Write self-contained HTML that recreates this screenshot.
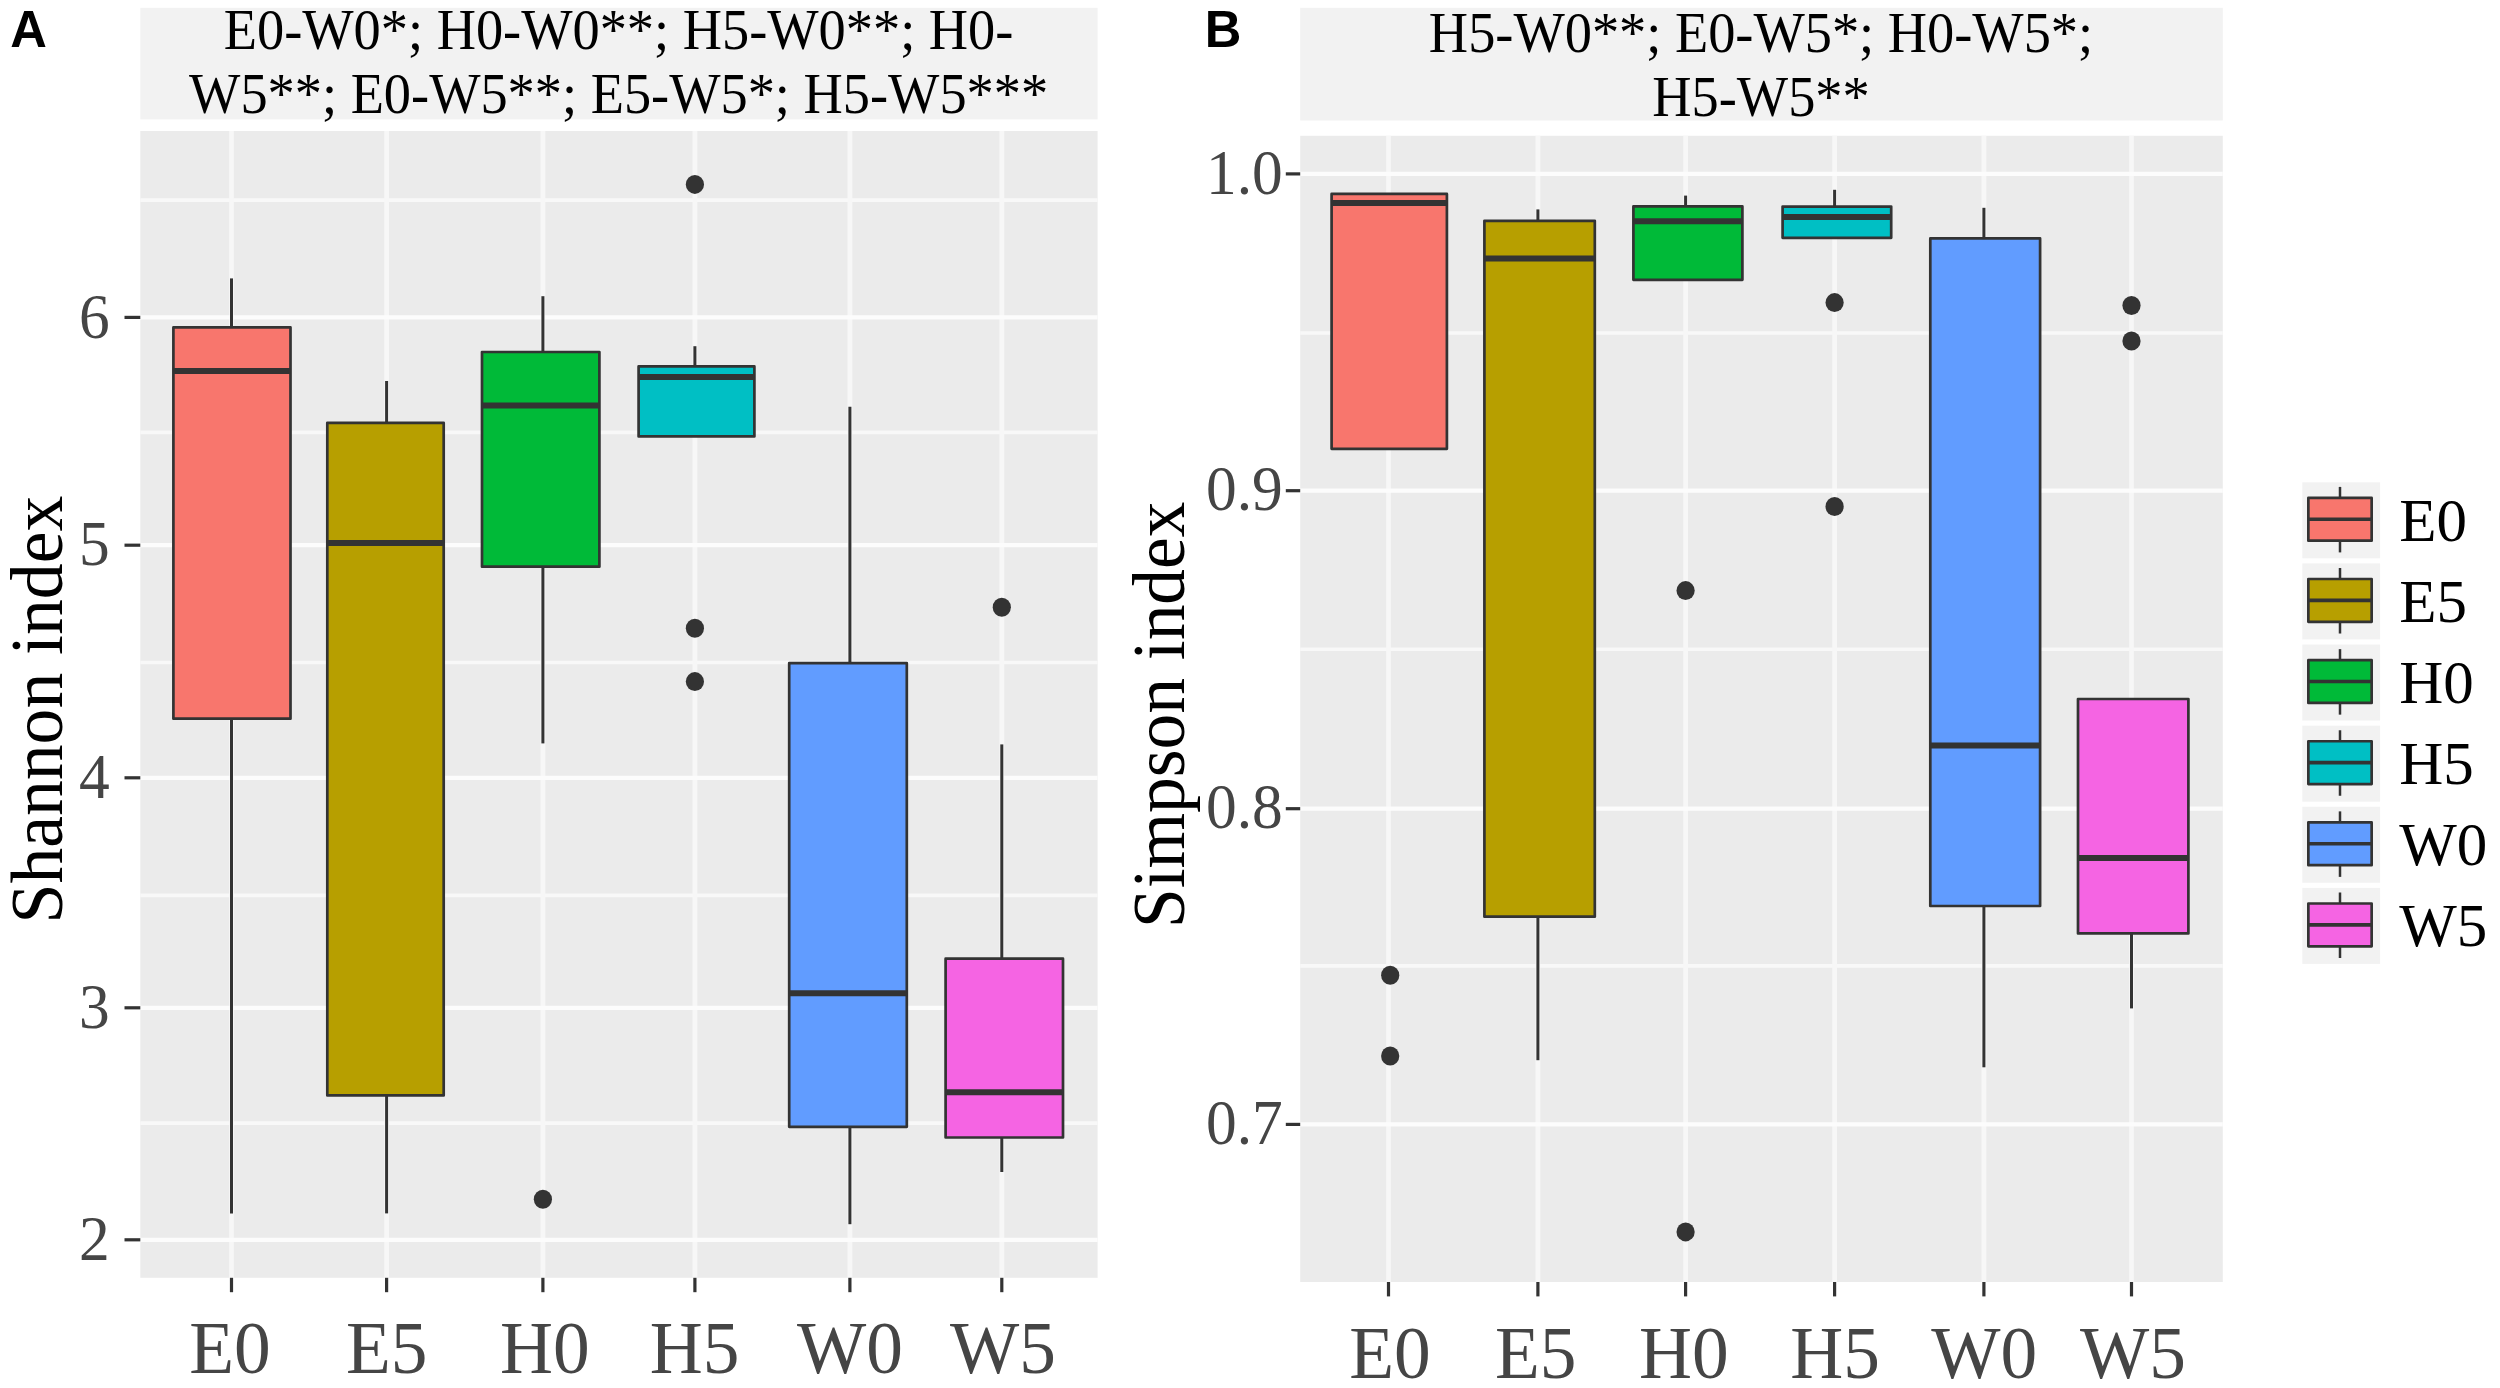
<!DOCTYPE html>
<html lang="en"><head><meta charset="utf-8"><title>Shannon and Simpson index boxplots</title>
<style>html,body{margin:0;padding:0;background:#fff;}body{width:2500px;height:1388px;overflow:hidden;}svg{display:block;}</style>
</head><body>
<svg width="2500" height="1388" viewBox="0 0 2500 1388">
<rect x="0" y="0" width="2500" height="1388" fill="#fff"/>
<rect x="140.3" y="7.8" width="957.30" height="111.60" fill="#F2F2F2"/>
<rect x="140.3" y="131.0" width="957.30" height="1146.80" fill="#EBEBEB"/>
<g fill="none">
<line x1="140.3" x2="1097.6" y1="200.10" y2="200.10" stroke="#F8F8F8" stroke-width="3.6"/>
<line x1="140.3" x2="1097.6" y1="432.40" y2="432.40" stroke="#F8F8F8" stroke-width="3.6"/>
<line x1="140.3" x2="1097.6" y1="662.50" y2="662.50" stroke="#F8F8F8" stroke-width="3.6"/>
<line x1="140.3" x2="1097.6" y1="895.40" y2="895.40" stroke="#F8F8F8" stroke-width="3.6"/>
<line x1="140.3" x2="1097.6" y1="1123.10" y2="1123.10" stroke="#F8F8F8" stroke-width="3.6"/>
<line x1="231.50" x2="231.50" y1="131.0" y2="1277.8" stroke="#F7F7F7" stroke-width="4.8"/>
<line x1="386.60" x2="386.60" y1="131.0" y2="1277.8" stroke="#F7F7F7" stroke-width="4.8"/>
<line x1="542.90" x2="542.90" y1="131.0" y2="1277.8" stroke="#F7F7F7" stroke-width="4.8"/>
<line x1="694.90" x2="694.90" y1="131.0" y2="1277.8" stroke="#F7F7F7" stroke-width="4.8"/>
<line x1="849.90" x2="849.90" y1="131.0" y2="1277.8" stroke="#F7F7F7" stroke-width="4.8"/>
<line x1="1001.80" x2="1001.80" y1="131.0" y2="1277.8" stroke="#F7F7F7" stroke-width="4.8"/>
<line x1="140.3" x2="1097.6" y1="317.40" y2="317.40" stroke="#FCFCFC" stroke-width="4.2"/>
<line x1="140.3" x2="1097.6" y1="545.20" y2="545.20" stroke="#FCFCFC" stroke-width="4.2"/>
<line x1="140.3" x2="1097.6" y1="777.80" y2="777.80" stroke="#FCFCFC" stroke-width="4.2"/>
<line x1="140.3" x2="1097.6" y1="1007.80" y2="1007.80" stroke="#FCFCFC" stroke-width="4.2"/>
<line x1="140.3" x2="1097.6" y1="1239.80" y2="1239.80" stroke="#FCFCFC" stroke-width="4.2"/>
</g>
<g stroke="#333333">
<line x1="231.50" x2="231.50" y1="278.40" y2="327.40" stroke-width="3.0"/>
<line x1="231.50" x2="231.50" y1="718.70" y2="1213.40" stroke-width="3.0"/>
<rect x="173.40" y="327.40" width="117.10" height="391.30" fill="#F8766D" stroke-width="2.7" stroke-linejoin="round"/>
<line x1="173.40" x2="290.50" y1="370.90" y2="370.90" stroke-width="6.0"/>
</g>
<g stroke="#333333">
<line x1="386.60" x2="386.60" y1="381.00" y2="422.80" stroke-width="3.0"/>
<line x1="386.60" x2="386.60" y1="1095.40" y2="1213.40" stroke-width="3.0"/>
<rect x="327.30" y="422.80" width="116.40" height="672.60" fill="#B79F00" stroke-width="2.7" stroke-linejoin="round"/>
<line x1="327.30" x2="443.70" y1="543.00" y2="543.00" stroke-width="6.0"/>
</g>
<g stroke="#333333">
<line x1="542.90" x2="542.90" y1="296.20" y2="352.00" stroke-width="3.0"/>
<line x1="542.90" x2="542.90" y1="566.70" y2="743.40" stroke-width="3.0"/>
<rect x="482.00" y="352.00" width="117.40" height="214.70" fill="#00BA38" stroke-width="2.7" stroke-linejoin="round"/>
<line x1="482.00" x2="599.40" y1="405.50" y2="405.50" stroke-width="6.0"/>
</g>
<ellipse cx="542.90" cy="1199.30" rx="9.1" ry="9.5" fill="#333333"/>
<g stroke="#333333">
<line x1="694.90" x2="694.90" y1="346.20" y2="366.40" stroke-width="3.0"/>
<rect x="638.60" y="366.40" width="115.80" height="70.00" fill="#00BFC4" stroke-width="2.7" stroke-linejoin="round"/>
<line x1="638.60" x2="754.40" y1="377.00" y2="377.00" stroke-width="6.0"/>
</g>
<ellipse cx="694.90" cy="184.40" rx="9.1" ry="9.5" fill="#333333"/>
<ellipse cx="694.90" cy="628.20" rx="9.1" ry="9.5" fill="#333333"/>
<ellipse cx="694.90" cy="681.60" rx="9.1" ry="9.5" fill="#333333"/>
<g stroke="#333333">
<line x1="849.90" x2="849.90" y1="406.80" y2="663.20" stroke-width="3.0"/>
<line x1="849.90" x2="849.90" y1="1126.80" y2="1224.20" stroke-width="3.0"/>
<rect x="789.20" y="663.20" width="117.60" height="463.60" fill="#619CFF" stroke-width="2.7" stroke-linejoin="round"/>
<line x1="789.20" x2="906.80" y1="993.20" y2="993.20" stroke-width="6.0"/>
</g>
<g stroke="#333333">
<line x1="1001.80" x2="1001.80" y1="744.40" y2="958.70" stroke-width="3.0"/>
<line x1="1001.80" x2="1001.80" y1="1137.50" y2="1172.00" stroke-width="3.0"/>
<rect x="945.60" y="958.70" width="117.40" height="178.80" fill="#F564E3" stroke-width="2.7" stroke-linejoin="round"/>
<line x1="945.60" x2="1063.00" y1="1092.30" y2="1092.30" stroke-width="6.0"/>
</g>
<ellipse cx="1001.80" cy="607.20" rx="9.1" ry="9.5" fill="#333333"/>
<g stroke="#333333" stroke-width="3.2">
<line x1="124.50" x2="140.3" y1="317.40" y2="317.40"/>
<line x1="124.50" x2="140.3" y1="545.20" y2="545.20"/>
<line x1="124.50" x2="140.3" y1="777.80" y2="777.80"/>
<line x1="124.50" x2="140.3" y1="1007.80" y2="1007.80"/>
<line x1="124.50" x2="140.3" y1="1239.80" y2="1239.80"/>
<line x1="231.50" x2="231.50" y1="1277.8" y2="1292.20"/>
<line x1="386.60" x2="386.60" y1="1277.8" y2="1292.20"/>
<line x1="542.90" x2="542.90" y1="1277.8" y2="1292.20"/>
<line x1="694.90" x2="694.90" y1="1277.8" y2="1292.20"/>
<line x1="849.90" x2="849.90" y1="1277.8" y2="1292.20"/>
<line x1="1001.80" x2="1001.80" y1="1277.8" y2="1292.20"/>
</g>
<text transform="translate(109.80,337.60) scale(0.9750,1)" font-family="'Liberation Serif', 'Times New Roman', Times, serif" font-size="63" fill="#454545" text-anchor="end">6</text>
<text transform="translate(109.80,565.40) scale(0.9750,1)" font-family="'Liberation Serif', 'Times New Roman', Times, serif" font-size="63" fill="#454545" text-anchor="end">5</text>
<text transform="translate(109.80,798.00) scale(0.9750,1)" font-family="'Liberation Serif', 'Times New Roman', Times, serif" font-size="63" fill="#454545" text-anchor="end">4</text>
<text transform="translate(109.80,1028.00) scale(0.9750,1)" font-family="'Liberation Serif', 'Times New Roman', Times, serif" font-size="63" fill="#454545" text-anchor="end">3</text>
<text transform="translate(109.80,1260.00) scale(0.9750,1)" font-family="'Liberation Serif', 'Times New Roman', Times, serif" font-size="63" fill="#454545" text-anchor="end">2</text>
<text transform="translate(230.00,1372.70) scale(0.9850,1)" font-family="'Liberation Serif', 'Times New Roman', Times, serif" font-size="74.5" fill="#454545" text-anchor="middle">E0</text>
<text transform="translate(386.80,1372.70) scale(0.9850,1)" font-family="'Liberation Serif', 'Times New Roman', Times, serif" font-size="74.5" fill="#454545" text-anchor="middle">E5</text>
<text transform="translate(544.90,1372.70) scale(0.9850,1)" font-family="'Liberation Serif', 'Times New Roman', Times, serif" font-size="74.5" fill="#454545" text-anchor="middle">H0</text>
<text transform="translate(694.50,1372.70) scale(0.9850,1)" font-family="'Liberation Serif', 'Times New Roman', Times, serif" font-size="74.5" fill="#454545" text-anchor="middle">H5</text>
<text transform="translate(850.00,1372.70) scale(0.9850,1)" font-family="'Liberation Serif', 'Times New Roman', Times, serif" font-size="74.5" fill="#454545" text-anchor="middle">W0</text>
<text transform="translate(1003.00,1372.70) scale(0.9850,1)" font-family="'Liberation Serif', 'Times New Roman', Times, serif" font-size="74.5" fill="#454545" text-anchor="middle">W5</text>
<text transform="translate(61.80,709.60) rotate(-90) scale(0.9550,1)" font-family="'Liberation Serif', 'Times New Roman', Times, serif" font-size="75" fill="#000" text-anchor="middle">Shannon index</text>
<text transform="translate(618.60,49.20) scale(0.9540,1)" font-family="'Liberation Serif', 'Times New Roman', Times, serif" font-size="57" fill="#000" text-anchor="middle">E0-W0*; H0-W0**; H5-W0**; H0-</text>
<text transform="translate(618.60,113.40) scale(0.9540,1)" font-family="'Liberation Serif', 'Times New Roman', Times, serif" font-size="57" fill="#000" text-anchor="middle">W5**; E0-W5**; E5-W5*; H5-W5***</text>
<text transform="translate(10.30,46.60) scale(0.9750,1)" font-family="'Liberation Sans', Arial, Helvetica, sans-serif" font-size="52" font-weight="bold" fill="#000" text-anchor="start">A</text>
<rect x="1300.2" y="7.8" width="922.60" height="112.70" fill="#F2F2F2"/>
<rect x="1300.2" y="135.8" width="922.60" height="1146.20" fill="#EBEBEB"/>
<g fill="none">
<line x1="1300.2" x2="2222.8" y1="333.00" y2="333.00" stroke="#F8F8F8" stroke-width="3.6"/>
<line x1="1300.2" x2="2222.8" y1="649.20" y2="649.20" stroke="#F8F8F8" stroke-width="3.6"/>
<line x1="1300.2" x2="2222.8" y1="965.90" y2="965.90" stroke="#F8F8F8" stroke-width="3.6"/>
<line x1="1388.50" x2="1388.50" y1="135.8" y2="1282.0" stroke="#F7F7F7" stroke-width="4.8"/>
<line x1="1537.90" x2="1537.90" y1="135.8" y2="1282.0" stroke="#F7F7F7" stroke-width="4.8"/>
<line x1="1685.60" x2="1685.60" y1="135.8" y2="1282.0" stroke="#F7F7F7" stroke-width="4.8"/>
<line x1="1834.60" x2="1834.60" y1="135.8" y2="1282.0" stroke="#F7F7F7" stroke-width="4.8"/>
<line x1="1983.90" x2="1983.90" y1="135.8" y2="1282.0" stroke="#F7F7F7" stroke-width="4.8"/>
<line x1="2131.50" x2="2131.50" y1="135.8" y2="1282.0" stroke="#F7F7F7" stroke-width="4.8"/>
<line x1="1300.2" x2="2222.8" y1="173.90" y2="173.90" stroke="#FCFCFC" stroke-width="4.2"/>
<line x1="1300.2" x2="2222.8" y1="490.70" y2="490.70" stroke="#FCFCFC" stroke-width="4.2"/>
<line x1="1300.2" x2="2222.8" y1="808.70" y2="808.70" stroke="#FCFCFC" stroke-width="4.2"/>
<line x1="1300.2" x2="2222.8" y1="1124.40" y2="1124.40" stroke="#FCFCFC" stroke-width="4.2"/>
</g>
<g stroke="#333333">
<rect x="1331.60" y="193.90" width="115.30" height="254.90" fill="#F8766D" stroke-width="2.7" stroke-linejoin="round"/>
<line x1="1331.60" x2="1446.90" y1="202.90" y2="202.90" stroke-width="6.0"/>
</g>
<ellipse cx="1390.20" cy="975.20" rx="9.1" ry="9.5" fill="#333333"/>
<ellipse cx="1390.20" cy="1056.00" rx="9.1" ry="9.5" fill="#333333"/>
<g stroke="#333333">
<line x1="1537.90" x2="1537.90" y1="209.40" y2="220.80" stroke-width="3.0"/>
<line x1="1537.90" x2="1537.90" y1="916.70" y2="1060.20" stroke-width="3.0"/>
<rect x="1484.40" y="220.80" width="110.40" height="695.90" fill="#B79F00" stroke-width="2.7" stroke-linejoin="round"/>
<line x1="1484.40" x2="1594.80" y1="258.60" y2="258.60" stroke-width="6.0"/>
</g>
<g stroke="#333333">
<line x1="1685.60" x2="1685.60" y1="195.60" y2="206.40" stroke-width="3.0"/>
<rect x="1633.40" y="206.40" width="109.00" height="73.40" fill="#00BA38" stroke-width="2.7" stroke-linejoin="round"/>
<line x1="1633.40" x2="1742.40" y1="221.20" y2="221.20" stroke-width="6.0"/>
</g>
<ellipse cx="1685.60" cy="590.60" rx="9.1" ry="9.5" fill="#333333"/>
<ellipse cx="1685.60" cy="1231.90" rx="9.1" ry="9.5" fill="#333333"/>
<g stroke="#333333">
<line x1="1834.60" x2="1834.60" y1="189.80" y2="206.60" stroke-width="3.0"/>
<rect x="1782.60" y="206.60" width="108.60" height="31.20" fill="#00BFC4" stroke-width="2.7" stroke-linejoin="round"/>
<line x1="1782.60" x2="1891.20" y1="217.00" y2="217.00" stroke-width="6.0"/>
</g>
<ellipse cx="1834.60" cy="302.60" rx="9.1" ry="9.5" fill="#333333"/>
<ellipse cx="1834.60" cy="506.50" rx="9.1" ry="9.5" fill="#333333"/>
<g stroke="#333333">
<line x1="1983.90" x2="1983.90" y1="207.80" y2="238.40" stroke-width="3.0"/>
<line x1="1983.90" x2="1983.90" y1="906.00" y2="1067.30" stroke-width="3.0"/>
<rect x="1930.30" y="238.40" width="109.80" height="667.60" fill="#619CFF" stroke-width="2.7" stroke-linejoin="round"/>
<line x1="1930.30" x2="2040.10" y1="745.40" y2="745.40" stroke-width="6.0"/>
</g>
<g stroke="#333333">
<line x1="2131.50" x2="2131.50" y1="933.40" y2="1008.40" stroke-width="3.0"/>
<rect x="2078.00" y="699.00" width="110.40" height="234.40" fill="#F564E3" stroke-width="2.7" stroke-linejoin="round"/>
<line x1="2078.00" x2="2188.40" y1="858.00" y2="858.00" stroke-width="6.0"/>
</g>
<ellipse cx="2131.50" cy="305.50" rx="9.1" ry="9.5" fill="#333333"/>
<ellipse cx="2131.50" cy="341.00" rx="9.1" ry="9.5" fill="#333333"/>
<g stroke="#333333" stroke-width="3.2">
<line x1="1285.80" x2="1300.2" y1="173.90" y2="173.90"/>
<line x1="1285.80" x2="1300.2" y1="490.70" y2="490.70"/>
<line x1="1285.80" x2="1300.2" y1="808.70" y2="808.70"/>
<line x1="1285.80" x2="1300.2" y1="1124.40" y2="1124.40"/>
<line x1="1388.50" x2="1388.50" y1="1282.0" y2="1296.40"/>
<line x1="1537.90" x2="1537.90" y1="1282.0" y2="1296.40"/>
<line x1="1685.60" x2="1685.60" y1="1282.0" y2="1296.40"/>
<line x1="1834.60" x2="1834.60" y1="1282.0" y2="1296.40"/>
<line x1="1983.90" x2="1983.90" y1="1282.0" y2="1296.40"/>
<line x1="2131.50" x2="2131.50" y1="1282.0" y2="1296.40"/>
</g>
<text transform="translate(1282.80,193.50) scale(0.9750,1)" font-family="'Liberation Serif', 'Times New Roman', Times, serif" font-size="63" fill="#454545" text-anchor="end">1.0</text>
<text transform="translate(1282.80,510.30) scale(0.9750,1)" font-family="'Liberation Serif', 'Times New Roman', Times, serif" font-size="63" fill="#454545" text-anchor="end">0.9</text>
<text transform="translate(1282.80,828.30) scale(0.9750,1)" font-family="'Liberation Serif', 'Times New Roman', Times, serif" font-size="63" fill="#454545" text-anchor="end">0.8</text>
<text transform="translate(1282.80,1144.00) scale(0.9750,1)" font-family="'Liberation Serif', 'Times New Roman', Times, serif" font-size="63" fill="#454545" text-anchor="end">0.7</text>
<text transform="translate(1389.90,1377.90) scale(0.9850,1)" font-family="'Liberation Serif', 'Times New Roman', Times, serif" font-size="74.5" fill="#454545" text-anchor="middle">E0</text>
<text transform="translate(1535.80,1377.90) scale(0.9850,1)" font-family="'Liberation Serif', 'Times New Roman', Times, serif" font-size="74.5" fill="#454545" text-anchor="middle">E5</text>
<text transform="translate(1683.90,1377.90) scale(0.9850,1)" font-family="'Liberation Serif', 'Times New Roman', Times, serif" font-size="74.5" fill="#454545" text-anchor="middle">H0</text>
<text transform="translate(1835.00,1377.90) scale(0.9850,1)" font-family="'Liberation Serif', 'Times New Roman', Times, serif" font-size="74.5" fill="#454545" text-anchor="middle">H5</text>
<text transform="translate(1984.10,1377.90) scale(0.9850,1)" font-family="'Liberation Serif', 'Times New Roman', Times, serif" font-size="74.5" fill="#454545" text-anchor="middle">W0</text>
<text transform="translate(2132.90,1377.90) scale(0.9850,1)" font-family="'Liberation Serif', 'Times New Roman', Times, serif" font-size="74.5" fill="#454545" text-anchor="middle">W5</text>
<text transform="translate(1183.80,714.80) rotate(-90) scale(0.9520,1)" font-family="'Liberation Serif', 'Times New Roman', Times, serif" font-size="75" fill="#000" text-anchor="middle">Simpson index</text>
<text transform="translate(1761.00,51.80) scale(0.9540,1)" font-family="'Liberation Serif', 'Times New Roman', Times, serif" font-size="57" fill="#000" text-anchor="middle">H5-W0**; E0-W5*; H0-W5*;</text>
<text transform="translate(1761.00,116.40) scale(0.9540,1)" font-family="'Liberation Serif', 'Times New Roman', Times, serif" font-size="57" fill="#000" text-anchor="middle">H5-W5**</text>
<text transform="translate(1204.80,46.60) scale(0.9750,1)" font-family="'Liberation Sans', Arial, Helvetica, sans-serif" font-size="52" font-weight="bold" fill="#000" text-anchor="start">B</text>
<rect x="2302.3" y="482.30" width="77.80" height="76.0" fill="#F2F2F2"/>
<g stroke="#333333">
<line x1="2340.0" x2="2340.0" y1="486.90" y2="497.90" stroke-width="2.5"/>
<line x1="2340.0" x2="2340.0" y1="540.70" y2="552.40" stroke-width="2.5"/>
<rect x="2308.35" y="497.90" width="63.30" height="42.8" fill="#F8766D" stroke-width="2.7" stroke-linejoin="round"/>
<line x1="2308.35" x2="2371.65" y1="519.30" y2="519.30" stroke-width="3.6"/>
</g>
<text transform="translate(2399.30,540.70)" font-family="'Liberation Serif', 'Times New Roman', Times, serif" font-size="61" fill="#000" text-anchor="start">E0</text>
<rect x="2302.3" y="563.42" width="77.80" height="76.0" fill="#F2F2F2"/>
<g stroke="#333333">
<line x1="2340.0" x2="2340.0" y1="568.02" y2="579.02" stroke-width="2.5"/>
<line x1="2340.0" x2="2340.0" y1="621.82" y2="633.52" stroke-width="2.5"/>
<rect x="2308.35" y="579.02" width="63.30" height="42.8" fill="#B79F00" stroke-width="2.7" stroke-linejoin="round"/>
<line x1="2308.35" x2="2371.65" y1="600.42" y2="600.42" stroke-width="3.6"/>
</g>
<text transform="translate(2399.30,621.82)" font-family="'Liberation Serif', 'Times New Roman', Times, serif" font-size="61" fill="#000" text-anchor="start">E5</text>
<rect x="2302.3" y="644.54" width="77.80" height="76.0" fill="#F2F2F2"/>
<g stroke="#333333">
<line x1="2340.0" x2="2340.0" y1="649.14" y2="660.14" stroke-width="2.5"/>
<line x1="2340.0" x2="2340.0" y1="702.94" y2="714.64" stroke-width="2.5"/>
<rect x="2308.35" y="660.14" width="63.30" height="42.8" fill="#00BA38" stroke-width="2.7" stroke-linejoin="round"/>
<line x1="2308.35" x2="2371.65" y1="681.54" y2="681.54" stroke-width="3.6"/>
</g>
<text transform="translate(2399.30,702.94)" font-family="'Liberation Serif', 'Times New Roman', Times, serif" font-size="61" fill="#000" text-anchor="start">H0</text>
<rect x="2302.3" y="725.66" width="77.80" height="76.0" fill="#F2F2F2"/>
<g stroke="#333333">
<line x1="2340.0" x2="2340.0" y1="730.26" y2="741.26" stroke-width="2.5"/>
<line x1="2340.0" x2="2340.0" y1="784.06" y2="795.76" stroke-width="2.5"/>
<rect x="2308.35" y="741.26" width="63.30" height="42.8" fill="#00BFC4" stroke-width="2.7" stroke-linejoin="round"/>
<line x1="2308.35" x2="2371.65" y1="762.66" y2="762.66" stroke-width="3.6"/>
</g>
<text transform="translate(2399.30,784.06)" font-family="'Liberation Serif', 'Times New Roman', Times, serif" font-size="61" fill="#000" text-anchor="start">H5</text>
<rect x="2302.3" y="806.78" width="77.80" height="76.0" fill="#F2F2F2"/>
<g stroke="#333333">
<line x1="2340.0" x2="2340.0" y1="811.38" y2="822.38" stroke-width="2.5"/>
<line x1="2340.0" x2="2340.0" y1="865.18" y2="876.88" stroke-width="2.5"/>
<rect x="2308.35" y="822.38" width="63.30" height="42.8" fill="#619CFF" stroke-width="2.7" stroke-linejoin="round"/>
<line x1="2308.35" x2="2371.65" y1="843.78" y2="843.78" stroke-width="3.6"/>
</g>
<text transform="translate(2399.30,865.18)" font-family="'Liberation Serif', 'Times New Roman', Times, serif" font-size="61" fill="#000" text-anchor="start">W0</text>
<rect x="2302.3" y="887.90" width="77.80" height="76.0" fill="#F2F2F2"/>
<g stroke="#333333">
<line x1="2340.0" x2="2340.0" y1="892.50" y2="903.50" stroke-width="2.5"/>
<line x1="2340.0" x2="2340.0" y1="946.30" y2="958.00" stroke-width="2.5"/>
<rect x="2308.35" y="903.50" width="63.30" height="42.8" fill="#F564E3" stroke-width="2.7" stroke-linejoin="round"/>
<line x1="2308.35" x2="2371.65" y1="924.90" y2="924.90" stroke-width="3.6"/>
</g>
<text transform="translate(2399.30,946.30)" font-family="'Liberation Serif', 'Times New Roman', Times, serif" font-size="61" fill="#000" text-anchor="start">W5</text>
</svg>
</body></html>
